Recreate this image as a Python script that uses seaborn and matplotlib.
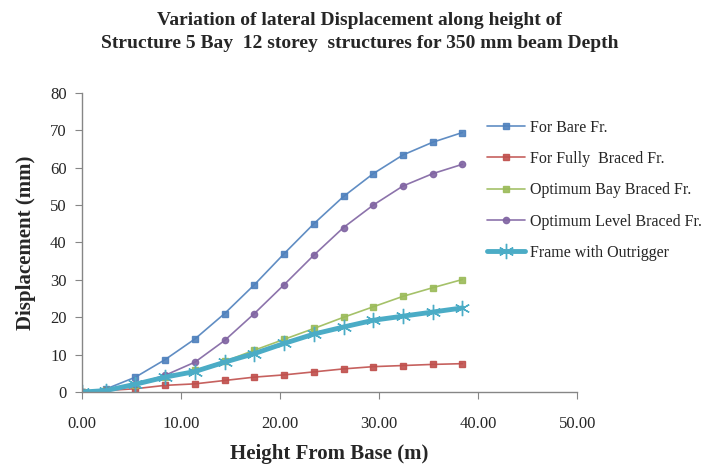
import matplotlib
matplotlib.use("Agg")
import matplotlib.pyplot as plt
import seaborn as sns

height = [0, 2.4, 5.4, 8.4, 11.4, 14.4, 17.4, 20.4, 23.4, 26.4, 29.4, 32.4, 35.4, 38.4]

bare = [0, 0.8, 4.0, 8.7, 14.2, 21.0, 28.7, 37.0, 45.0, 52.3, 58.4, 63.4, 66.8, 69.4]
fully_braced = [0, 0.4, 0.9, 1.8, 2.2, 3.1, 4.0, 4.6, 5.4, 6.2, 6.8, 7.1, 7.4, 7.6]
bay_braced = [0, 0.5, 2.0, 4.0, 5.8, 8.2, 11.2, 14.1, 17.0, 20.0, 22.8, 25.6, 27.9, 30.1]
level_braced = [0, 0.6, 2.1, 4.5, 8.0, 13.8, 21.0, 28.7, 36.6, 44.0, 50.0, 55.1, 58.4, 60.9]
outrigger = [0, 0.4, 2.1, 4.0, 5.5, 8.0, 10.3, 13.0, 15.5, 17.4, 19.2, 20.3, 21.4, 22.5]

labels = ["For Bare Fr.", "For Fully  Braced Fr.", "Optimum Bay Braced Fr.",
          "Optimum Level Braced Fr.", "Frame with Outrigger"]
x_ticks = [0, 10, 20, 30, 40, 50]
y_ticks = [0, 10, 20, 30, 40, 50, 60, 70, 80]

sns.set_style("white")
plt.rcParams["font.family"] = ["Liberation Serif", "DejaVu Serif"]

fig = plt.figure(figsize=(7.19, 4.69), dpi=100)
ax = fig.add_axes([0.114, 0.164, 0.689, 0.638])

series = [
    (bare, "#4F81BD", "s", 1.2, 5),
    (fully_braced, "#C0504D", "s", 1.2, 5),
    (bay_braced, "#9BBB59", "s", 1.2, 5),
    (level_braced, "#8064A2", "o", 1.2, 4.5),
    (outrigger, "#4BACC6", (6, 2, 0), 3.5, 11),
]
for (vals, color, marker, lw, ms), label in zip(series, labels):
    sns.lineplot(x=height, y=vals, ax=ax, color=color, marker=marker, lw=lw,
                 markersize=ms, markeredgecolor=color, markeredgewidth=1.0,
                 label=label, alpha=0.9 if lw < 2 else 1.0)

ax.set_xlim(0, 50)
ax.set_ylim(0, 80)
ax.set_xticks(x_ticks)
ax.set_xticklabels([f"{v:.2f}" for v in x_ticks])
ax.set_yticks(y_ticks)
for s in ["top", "right"]:
    ax.spines[s].set_visible(False)
for s in ["left", "bottom"]:
    ax.spines[s].set_color("#868686")
    ax.spines[s].set_linewidth(1.0)
ax.tick_params(axis="both", direction="out", length=5, color="#868686",
               labelsize=12, pad=6, bottom=True, left=True)
ax.tick_params(axis="x", pad=12)

ax.set_xlabel("Height From Base (m)", fontsize=15, fontweight="bold", labelpad=9)
ax.set_ylabel("Displacement (mm)", fontsize=15, fontweight="bold", labelpad=10)

fig.suptitle("Variation of lateral Displacement along height of\n"
             "Structure 5 Bay  12 storey  structures for 350 mm beam Depth",
             x=0.5, y=0.975, fontsize=14, fontweight="bold", linespacing=1.45)

fig.legend(*ax.get_legend_handles_labels(), loc="upper left",
           bbox_to_anchor=(0.677, 0.745), frameon=False,
           fontsize=11.5, handlelength=2.4, labelspacing=0.96, handletextpad=0.3,
           borderaxespad=0.0, borderpad=0.0)
ax.get_legend().remove()

fig.savefig("out.png", dpi=100)
